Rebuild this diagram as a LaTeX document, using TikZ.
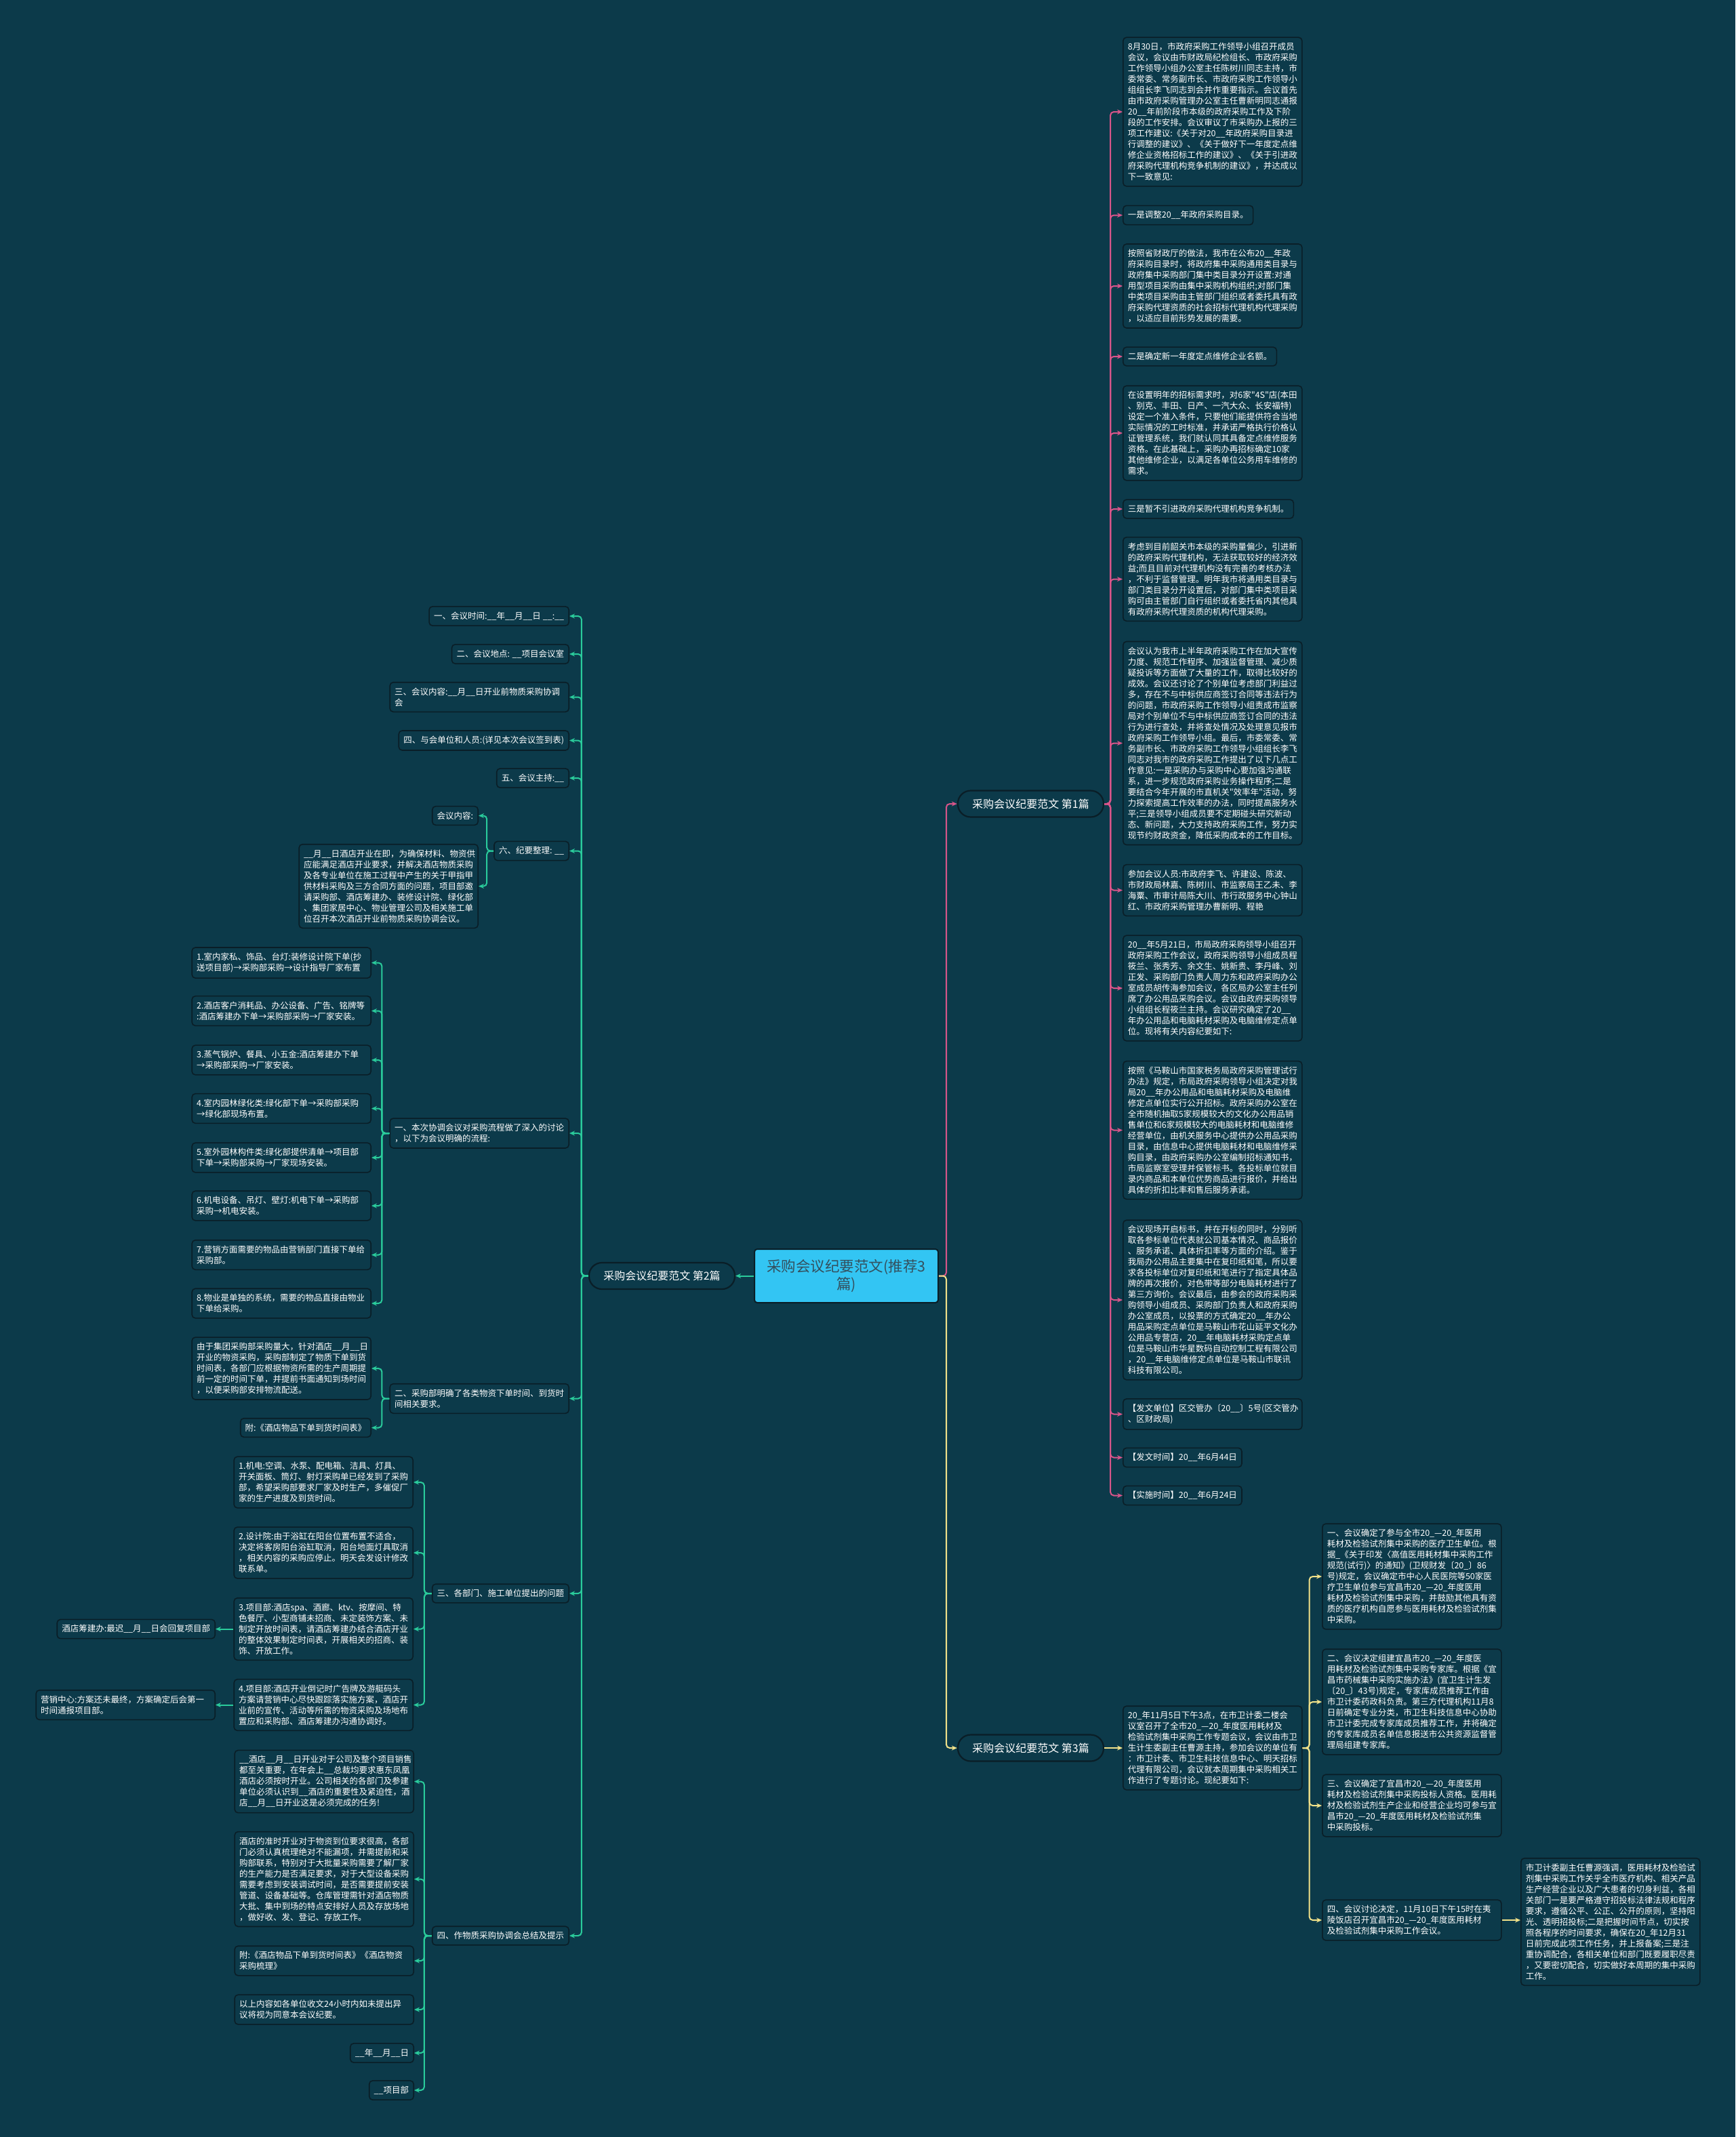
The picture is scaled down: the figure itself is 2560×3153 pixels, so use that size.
\documentclass[tikz,border=0pt]{standalone}
\usepackage{fontspec}
\setmainfont{Noto Sans CJK SC}[Ligatures=TeXOff]
\usetikzlibrary{arrows.meta}
\definecolor{bg}{HTML}{0C3A4A}
\definecolor{bordercol}{HTML}{0A1E27}
\definecolor{tealc}{HTML}{2ACB9B}
\definecolor{pinkc}{HTML}{D8558A}
\definecolor{yelc}{HTML}{F2E28A}
\definecolor{centralc}{HTML}{33C5F3}
\definecolor{centraltext}{HTML}{34505E}
\tikzset{
  box/.style={draw=bordercol, line width=1.6pt, rounded corners=5pt, fill=bg, text=white,
    font=\fontsize{12.5}{16}\selectfont, inner xsep=7pt, inner ysep=8pt, align=left},
  wbox/.style={box, text width=250pt},
  branch/.style={draw=bordercol, line width=2.2pt, rounded corners=19pt, fill=bg, text=white,
    font=\fontsize{16}{20}\selectfont, minimum height=39pt, minimum width=215pt, inner xsep=4pt},
  central/.style={draw=bordercol, line width=2pt, rounded corners=4pt, fill=centralc, text=centraltext,
    font=\fontsize{21.5}{26}\selectfont, minimum width=271pt, minimum height=79pt, align=center},
  arr/.style={-{Stealth[length=8pt,width=7pt]}},
  tl/.style={draw=tealc, line width=2pt, rounded corners=5pt, arr},
  pl/.style={draw=pinkc, line width=2pt, rounded corners=5pt, arr},
  yl/.style={draw=yelc, line width=2pt, rounded corners=5pt, arr},
}
\begin{document}
\catcode`\_=12
\begin{tikzpicture}[x=1pt,y=-1pt]
\useasboundingbox (0,0) rectangle (2560,3153);
\fill[bg] (0,0) rectangle (2560,3153);

% central and branches
\node[central] (c) at (1248.5,1882.5) {采购会议纪要范文(推荐3\\篇)};
\node[branch] (b1) at (1520.5,1186) {采购会议纪要范文 第1篇};
\node[branch] (b2) at (976.5,1882.5) {采购会议纪要范文 第2篇};
\node[branch] (b3) at (1520.5,2579) {采购会议纪要范文 第3篇};

% ---------- branch 1 ----------
\node[wbox, anchor=west] (A) at (1656,165) {8月30日，市政府采购工作领导小组召开成员\\会议，会议由市财政局纪检组长、市政府采购\\工作领导小组办公室主任陈树川同志主持，市\\委常委、常务副市长、市政府采购工作领导小\\组组长李飞同志到会并作重要指示。会议首先\\由市政府采购管理办公室主任曹新明同志通报\\20__年前阶段市本级的政府采购工作及下阶\\段的工作安排。会议审议了市采购办上报的三\\项工作建议:《关于对20__年政府采购目录进\\行调整的建议》、《关于做好下一年度定点维\\修企业资格招标工作的建议》、《关于引进政\\府采购代理机构竞争机制的建议》，并达成以\\下一致意见:};
\node[box, anchor=west] (B) at (1656,317.5) {一是调整20__年政府采购目录。};
\node[wbox, anchor=west] (C) at (1656,422) {按照省财政厅的做法，我市在公布20__年政\\府采购目录时，将政府集中采购通用类目录与\\政府集中采购部门集中类目录分开设置:对通\\用型项目采购由集中采购机构组织;对部门集\\中类项目采购由主管部门组织或者委托具有政\\府采购代理资质的社会招标代理机构代理采购\\，以适应目前形势发展的需要。};
\node[box, anchor=west] (D) at (1656,526) {二是确定新一年度定点维修企业名额。};
\node[wbox, anchor=west] (E) at (1656,639) {在设置明年的招标需求时，对6家"4S"店(本田\\、别克、丰田、日产、一汽大众、长安福特)\\设定一个准入条件，只要他们能提供符合当地\\实际情况的工时标准，并承诺严格执行价格认\\证管理系统，我们就认同其具备定点维修服务\\资格。在此基础上，采购办再招标确定10家\\其他维修企业，以满足各单位公务用车维修的\\需求。};
\node[box, anchor=west] (F) at (1656,751) {三是暂不引进政府采购代理机构竞争机制。};
\node[wbox, anchor=west] (G) at (1656,854.5) {考虑到目前韶关市本级的采购量偏少，引进新\\的政府采购代理机构，无法获取较好的经济效\\益;而且目前对代理机构没有完善的考核办法\\，不利于监督管理。明年我市将通用类目录与\\部门类目录分开设置后，对部门集中类项目采\\购可由主管部门自行组织或者委托省内其他具\\有政府采购代理资质的机构代理采购。};
\node[wbox, anchor=west] (H) at (1656,1096.5) {会议认为我市上半年政府采购工作在加大宣传\\力度、规范工作程序、加强监督管理、减少质\\疑投诉等方面做了大量的工作，取得比较好的\\成效。会议还讨论了个别单位考虑部门利益过\\多，存在不与中标供应商签订合同等违法行为\\的问题，市政府采购工作领导小组责成市监察\\局对个别单位不与中标供应商签订合同的违法\\行为进行查处，并将查处情况及处理意见报市\\政府采购工作领导小组。最后，市委常委、常\\务副市长、市政府采购工作领导小组组长李飞\\同志对我市的政府采购工作提出了以下几点工\\作意见:一是采购办与采购中心要加强沟通联\\系，进一步规范政府采购业务操作程序;二是\\要结合今年开展的市直机关"效率年"活动，努\\力探索提高工作效率的办法，同时提高服务水\\平;三是领导小组成员要不定期碰头研究新动\\态、新问题，大力支持政府采购工作，努力实\\现节约财政资金，降低采购成本的工作目标。};
\node[wbox, anchor=west] (I) at (1656,1313.5) {参加会议人员:市政府李飞、许建设、陈波、\\市财政局林嘉、陈树川、市监察局王乙未、李\\海粟、市审计局陈大川、市行政服务中心钟山\\红、市政府采购管理办曹新明、程艳};
\node[wbox, anchor=west] (J) at (1656,1458) {20__年5月21日，市局政府采购领导小组召开\\政府采购工作会议，政府采购领导小组成员程\\筱兰、张秀芳、余文生、姚新贵、李丹峰、刘\\正发、采购部门负责人周力东和政府采购办公\\室成员胡传海参加会议，各区局办公室主任列\\席了办公用品采购会议。会议由政府采购领导\\小组组长程筱兰主持。会议研究确定了20__\\年办公用品和电脑耗材采购及电脑维修定点单\\位。现将有关内容纪要如下:};
\node[wbox, anchor=west] (K) at (1656,1667.5) {按照《马鞍山市国家税务局政府采购管理试行\\办法》规定，市局政府采购领导小组决定对我\\局20__年办公用品和电脑耗材采购及电脑维\\修定点单位实行公开招标。政府采购办公室在\\全市随机抽取5家规模较大的文化办公用品销\\售单位和6家规模较大的电脑耗材和电脑维修\\经营单位，由机关服务中心提供办公用品采购\\目录，由信息中心提供电脑耗材和电脑维修采\\购目录，由政府采购办公室编制招标通知书，\\市局监察室受理并保管标书。各投标单位就目\\录内商品和本单位优势商品进行报价，并给出\\具体的折扣比率和售后服务承诺。};
\node[wbox, anchor=west] (L) at (1656,1918) {会议现场开启标书，并在开标的同时，分别听\\取各参标单位代表就公司基本情况、商品报价\\、服务承诺、具体折扣率等方面的介绍。鉴于\\我局办公用品主要集中在复印纸和笔，所以要\\求各投标单位对复印纸和笔进行了指定具体品\\牌的再次报价，对色带等部分电脑耗材进行了\\第三方询价。会议最后，由参会的政府采购采\\购领导小组成员、采购部门负责人和政府采购\\办公室成员，以投票的方式确定20__年办公\\用品采购定点单位是马鞍山市花山延平文化办\\公用品专营店，20__年电脑耗材采购定点单\\位是马鞍山市华星数码自动控制工程有限公司\\，20__年电脑维修定点单位是马鞍山市联讯\\科技有限公司。};
\node[wbox, anchor=west] (M) at (1656,2086.5) {【发文单位】区交管办〔20__〕5号(区交管办\\、区财政局)};
\node[box, anchor=west] (N) at (1656,2150.5) {【发文时间】20__年6月44日};
\node[box, anchor=west] (O) at (1656,2206.5) {【实施时间】20__年6月24日};

% ---------- branch 3 ----------
\node[wbox, anchor=west] (T0) at (1656,2579) {20_年11月5日下午3点，在市卫计委二楼会\\议室召开了全市20_—20_年度医用耗材及\\检验试剂集中采购工作专题会议，会议由市卫\\生计生委副主任曹源主持，参加会议的单位有\\：市卫计委、市卫生科技信息中心、明天招标\\代理有限公司，会议就本周期集中采购相关工\\作进行了专题讨论。现纪要如下:};
\node[wbox, anchor=west] (T1) at (1950,2326) {一、会议确定了参与全市20_—20_年医用\\耗材及检验试剂集中采购的医疗卫生单位。根\\据_《关于印发〈高值医用耗材集中采购工作\\规范(试行)〉的通知》(卫规财发〔20_〕86\\号)规定，会议确定市中心人民医院等50家医\\疗卫生单位参与宜昌市20_—20_年度医用\\耗材及检验试剂集中采购，并鼓励其他具有资\\质的医疗机构自愿参与医用耗材及检验试剂集\\中采购。};
\node[wbox, anchor=west] (T2) at (1950,2511) {二、会议决定组建宜昌市20_—20_年度医\\用耗材及检验试剂集中采购专家库。根据《宜\\昌市药械集中采购实施办法》(宜卫生计生发\\〔20_〕43号)规定，专家库成员推荐工作由\\市卫计委药政科负责。第三方代理机构11月8\\日前确定专业分类，市卫生科技信息中心协助\\市卫计委完成专家库成员推荐工作，并将确定\\的专家库成员名单信息报送市公共资源监督管\\理局组建专家库。};
\node[wbox, anchor=west] (T3) at (1950,2664) {三、会议确定了宜昌市20_—20_年度医用\\耗材及检验试剂集中采购投标人资格。医用耗\\材及检验试剂生产企业和经营企业均可参与宜\\昌市20_—20_年度医用耗材及检验试剂集\\中采购投标。};
\node[wbox, anchor=west] (T4) at (1950,2833) {四、会议讨论决定，11月10日下午15时在夷\\陵饭店召开宜昌市20_—20_年度医用耗材\\及检验试剂集中采购工作会议。};
\node[wbox, anchor=west] (T5) at (2243,2835.5) {市卫计委副主任曹源强调，医用耗材及检验试\\剂集中采购工作关乎全市医疗机构、相关产品\\生产经营企业以及广大患者的切身利益，各相\\关部门一是要严格遵守招投标法律法规和程序\\要求，遵循公平、公正、公开的原则，坚持阳\\光、透明招投标;二是把握时间节点，切实按\\照各程序的时间要求，确保在20_年12月31\\日前完成此项工作任务，并上报备案;三是注\\重协调配合，各相关单位和部门既要履职尽责\\，又要密切配合，切实做好本周期的集中采购\\工作。};

% ---------- branch 2 ----------
\node[box, anchor=east] (n1) at (840,909) {一、会议时间:__年__月__日 __:__};
\node[box, anchor=east] (n2) at (840,965) {二、会议地点: __项目会议室};
\node[wbox, anchor=east] (n3) at (840,1028.5) {三、会议内容:__月__日开业前物质采购协调\\会};
\node[box, anchor=east] (n4) at (840,1092.5) {四、与会单位和人员:(详见本次会议签到表)};
\node[box, anchor=east] (n5) at (840,1148) {五、会议主持:__};
\node[box, anchor=east] (n6) at (840,1255.5) {六、纪要整理: __};
\node[box, anchor=east] (n6a) at (706,1203.5) {会议内容:};
\node[wbox, anchor=east] (n6b) at (706,1307.5) {__月__日酒店开业在即，为确保材料、物资供\\应能满足酒店开业要求，并解决酒店物质采购\\及各专业单位在施工过程中产生的关于甲指甲\\供材料采购及三方合同方面的问题，项目部邀\\请采购部、酒店筹建办、装修设计院、绿化部\\、集团家居中心、物业管理公司及相关施工单\\位召开本次酒店开业前物质采购协调会议。};

\node[wbox, anchor=east] (p1) at (840,1672) {一、本次协调会议对采购流程做了深入的讨论\\，以下为会议明确的流程:};
\node[wbox, anchor=east] (q1) at (548,1420.5) {1.室内家私、饰品、台灯:装修设计院下单(抄\\送项目部)→采购部采购→设计指导厂家布置};
\node[wbox, anchor=east] (q2) at (548,1491.5) {2.酒店客户消耗品、办公设备、广告、铭牌等\\:酒店筹建办下单→采购部采购→厂家安装。};
\node[wbox, anchor=east] (q3) at (548,1564) {3.蒸气锅炉、餐具、小五金:酒店筹建办下单\\→采购部采购→厂家安装。};
\node[wbox, anchor=east] (q4) at (548,1635.5) {4.室内园林绿化类:绿化部下单→采购部采购\\→绿化部现场布置。};
\node[wbox, anchor=east] (q5) at (548,1708) {5.室外园林构件类:绿化部提供清单→项目部\\下单→采购部采购→厂家现场安装。};
\node[wbox, anchor=east] (q6) at (548,1779) {6.机电设备、吊灯、壁灯:机电下单→采购部\\采购→机电安装。};
\node[wbox, anchor=east] (q7) at (548,1851.5) {7.营销方面需要的物品由营销部门直接下单给\\采购部。};
\node[wbox, anchor=east] (q8) at (548,1923) {8.物业是单独的系统，需要的物品直接由物业\\下单给采购。};

\node[wbox, anchor=east] (p2) at (840,2063.5) {二、采购部明确了各类物资下单时间、到货时\\间相关要求。};
\node[wbox, anchor=east] (r1) at (548,2019) {由于集团采购部采购量大，针对酒店__月__日\\开业的物资采购，采购部制定了物质下单到货\\时间表，各部门应根据物资所需的生产周期提\\前一定的时间下单，并提前书面通知到场时间\\，以便采购部安排物流配送。};
\node[box, anchor=east] (r2) at (548,2106.5) {附:《酒店物品下单到货时间表》};

\node[box, anchor=east] (p3) at (840,2351) {三、各部门、施工单位提出的问题};
\node[wbox, anchor=east] (s1) at (610,2187) {1.机电:空调、水泵、配电箱、洁具、灯具、\\开关面板、筒灯、射灯采购单已经发到了采购\\部，希望采购部要求厂家及时生产，多催促厂\\家的生产进度及到货时间。};
\node[wbox, anchor=east] (s2) at (610,2291) {2.设计院:由于浴缸在阳台位置布置不适合，\\决定将客房阳台浴缸取消，阳台地面灯具取消\\，相关内容的采购应停止。明天会发设计修改\\联系单。};
\node[wbox, anchor=east] (s3) at (610,2403.5) {3.项目部:酒店spa、酒廊、ktv、按摩间、特\\色餐厅、小型商铺未招商、未定装饰方案、未\\制定开放时间表，请酒店筹建办结合酒店开业\\的整体效果制定时间表，开展相关的招商、装\\饰、开放工作。};
\node[wbox, anchor=east] (s4) at (610,2515.5) {4.项目部:酒店开业倒记时广告牌及游艇码头\\方案请营销中心尽快跟踪落实施方案，酒店开\\业前的宣传、活动等所需的物资采购及场地布\\置应和采购部、酒店筹建办沟通协调好。};
\node[box, anchor=east] (s3g) at (318,2403.5) {酒店筹建办:最迟__月__日会回复项目部};
\node[wbox, anchor=east] (s4g) at (318,2515.5) {营销中心:方案还未最终，方案确定后会第一\\时间通报项目部。};

\node[box, anchor=east] (p4) at (840,2856) {四、作物质采购协调会总结及提示};
\node[wbox, anchor=east] (u1) at (611,2628.5) {__酒店__月__日开业对于公司及整个项目销售\\都至关重要，在年会上__总裁均要求惠东凤凰\\酒店必须按时开业。公司相关的各部门及参建\\单位必须认识到__酒店的重要性及紧迫性，酒\\店__月__日开业这是必须完成的任务!};
\node[wbox, anchor=east] (u2) at (611,2772.5) {酒店的准时开业对于物资到位要求很高，各部\\门必须认真梳理绝对不能漏项，并需提前和采\\购部联系，特别对于大批量采购需要了解厂家\\的生产能力是否满足要求，对于大型设备采购\\需要考虑到安装调试时间，是否需要提前安装\\管道、设备基础等。仓库管理需针对酒店物质\\大批、集中到场的特点安排好人员及存放场地\\，做好收、发、登记、存放工作。};
\node[wbox, anchor=east] (u3) at (611,2893) {附:《酒店物品下单到货时间表》《酒店物资\\采购梳理》};
\node[wbox, anchor=east] (u4) at (611,2965) {以上内容如各单位收文24小时内如未提出异\\议将视为同意本会议纪要。};
\node[box, anchor=east] (u5) at (611,3029) {__年__月__日};
\node[box, anchor=east] (u6) at (611,3084) {__项目部};

% ---------- connectors ----------
\draw[tl] (c.west) -- (b2.east);
\draw[pl] (c.east) -- ++(11,0) |- (b1.west);
\draw[yl] (c.east) -- ++(11,0) |- (b3.west);

\foreach \n in {A,B,C,D,E,F,G,H,I,J,K,L,M,N,O}
  \draw[pl] (b1.east) -- ++(9,0) |- (\n.west);

\draw[yl] (b3.east) -- (T0.west);
\foreach \n in {T1,T2,T3,T4}
  \draw[yl] (T0.east) -- ++(10,0) |- (\n.west);
\draw[yl] (T4.east) -- (T4.east -| T5.west);

\foreach \n in {n1,n2,n3,n4,n5,n6,p1,p2,p3,p4}
  \draw[tl] (b2.west) -- ++(-10,0) |- (\n.east);
\foreach \n in {n6a,n6b}
  \draw[tl] (n6.west) -- ++(-10,0) |- (\n.east);
\foreach \n in {q1,q2,q3,q4,q5,q6,q7,q8}
  \draw[tl] (p1.west) -- ++(-11,0) |- (\n.east);
\foreach \n in {r1,r2}
  \draw[tl] (p2.west) -- ++(-11,0) |- (\n.east);
\foreach \n in {s1,s2,s3,s4}
  \draw[tl] (p3.west) -- ++(-11,0) |- (\n.east);
\draw[tl] (s3.west) -- (s3g.east);
\draw[tl] (s4.west) -- (s4g.east);
\foreach \n in {u1,u2,u3,u4,u5,u6}
  \draw[tl] (p4.west) -- ++(-11,0) |- (\n.east);
\end{tikzpicture}
\end{document}
